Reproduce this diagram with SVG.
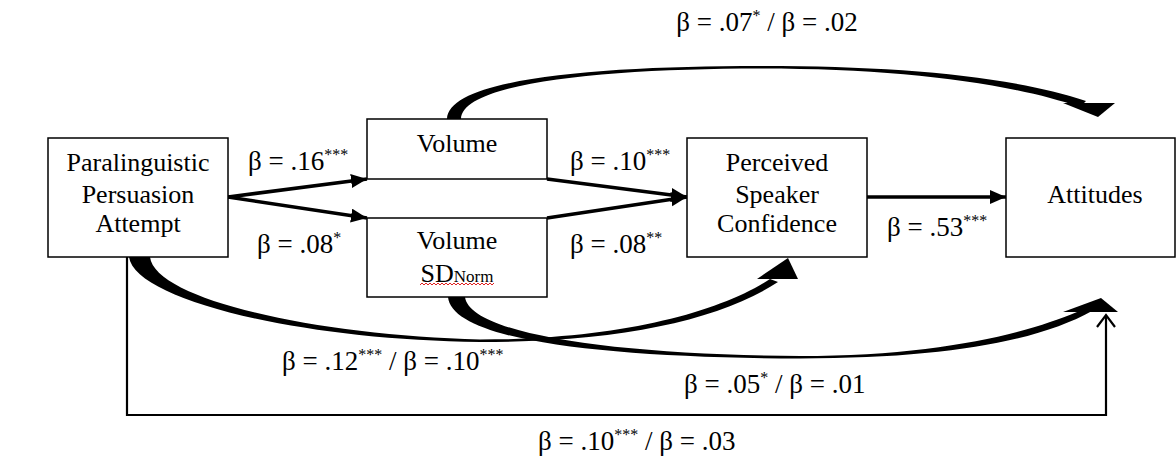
<svg xmlns="http://www.w3.org/2000/svg" width="1176" height="461" viewBox="0 0 1176 461">
<defs>
<style>
.box{fill:#fff;stroke:#000;stroke-width:1.5}
.t{font-family:"Liberation Serif","Times New Roman",serif;font-size:26px;fill:#000}
.lb{font-size:27px}
.c{text-anchor:middle}
.sup{font-size:16px}
.ln{stroke:#000;stroke-width:3.5;fill:none}
.thin{stroke:#000;stroke-width:2.2;fill:none}
.blk{fill:#000;stroke:none}
</style>
<marker id="ah" markerUnits="userSpaceOnUse" markerWidth="18" markerHeight="16" refX="16" refY="7" orient="auto">
<path d="M0,0 L16,7 L0,14 z" fill="#000"/>
</marker>
</defs>
<rect width="1176" height="461" fill="#fff"/>

<g id="connectors">
<line class="ln" x1="228" y1="197" x2="367" y2="179" marker-end="url(#ah)"/>
<line class="ln" x1="228" y1="197" x2="367" y2="218" marker-end="url(#ah)"/>
<line class="ln" x1="547" y1="179" x2="687" y2="197" marker-end="url(#ah)"/>
<line class="ln" x1="547" y1="218" x2="687" y2="197" marker-end="url(#ah)"/>
<line class="ln" x1="867" y1="197" x2="1006" y2="197" marker-end="url(#ah)"/>
<!-- Volume -> Attitudes curve -->
<path class="blk" d="M447 119 C448 78 600 66 760 66 C900 66 1010 76 1086 101 L1080 107 C1010 83 900 68.5 760 68.5 C610 68.5 462 82 461 119 Z"/>
<polygon class="blk" points="1063,103 1115,103 1098,117"/>
<!-- Paralinguistic -> PSC curve -->
<path class="blk" d="M129 257 C135 300 300 340 480 342 C620 342 720 320 778 282 L770 279 C720 312 620 339.5 480 339.5 C320 336 155 300 150 257 Z"/>
<polygon class="blk" points="788,258 798,279 757,279"/>
<!-- Volume SD -> Attitudes curve -->
<path class="blk" d="M448 297 C452 340 600 358 800 358.5 C950 358.5 1040 340 1092 311 L1077 312 C1030 332 940 356 800 356 C620 355 470 335 465 297 Z"/>
<polygon class="blk" points="1101,298 1118,312 1063,312"/>
<!-- direct path -->
<path class="thin" d="M127 257 V415 H1106 V316"/>
<polyline class="thin" points="1097,327 1106,315 1115,327"/>
</g>

<g id="node-paralinguistic">
<rect class="box" x="48" y="138" width="180" height="119"/>
<text class="t c" x="138" y="171">Paralinguistic</text>
<text class="t c" x="138" y="203">Persuasion</text>
<text class="t c" x="138" y="232">Attempt</text>
</g>
<g id="node-volume">
<rect class="box" x="367" y="119" width="180" height="60"/>
<text class="t c" x="457" y="152">Volume</text>
</g>
<g id="node-volume-sd">
<rect class="box" x="367" y="218" width="180" height="79"/>
<text class="t c" x="457" y="249">Volume</text>
<text class="t c" x="457" y="282">SD<tspan font-size="17">Norm</tspan></text>
<path d="M420 285 l2 -2 l2 2 l2 -2 l2 2 l2 -2 l2 2 l2 -2 l2 2 l2 -2 l2 2 l2 -2 l2 2 l2 -2 l2 2 l2 -2 l2 2 l2 -2 l2 2 l2 -2 l2 2 l2 -2 l2 2 l2 -2 l2 2 l2 -2 l2 2 l2 -2 l2 2 l2 -2 l2 2 l2 -2 l2 2 l2 -2 l2 2 l2 -2 l2 2 l2 -2" fill="none" stroke="#e02020" stroke-width="1"/>
</g>
<g id="node-psc">
<rect class="box" x="687" y="138" width="180" height="119"/>
<text class="t c" x="777" y="171">Perceived</text>
<text class="t c" x="777" y="203">Speaker</text>
<text class="t c" x="777" y="232">Confidence</text>
</g>
<g id="node-attitudes">
<rect class="box" x="1006" y="138" width="169" height="119"/>
<text class="t c" x="1095" y="203">Attitudes</text>
</g>

<g id="labels">
<text class="t lb c" x="767" y="31">β = .07<tspan class="sup" dy="-10">*</tspan><tspan dy="10"> / β = .02</tspan></text>
<text class="t lb" x="248" y="170">β = .16<tspan class="sup" dy="-10">***</tspan></text>
<text class="t lb" x="257" y="253">β = .08<tspan class="sup" dy="-10">*</tspan></text>
<text class="t lb" x="570" y="170">β = .10<tspan class="sup" dy="-10">***</tspan></text>
<text class="t lb" x="570" y="253">β = .08<tspan class="sup" dy="-10">**</tspan></text>
<text class="t lb" x="887" y="236">β = .53<tspan class="sup" dy="-10">***</tspan></text>
<text class="t lb" x="282" y="370">β = .12<tspan class="sup" dy="-10">***</tspan><tspan dy="10"> / β = .10</tspan><tspan class="sup" dy="-10">***</tspan></text>
<text class="t lb" x="684" y="393">β = .05<tspan class="sup" dy="-10">*</tspan><tspan dy="10"> / β = .01</tspan></text>
<text class="t lb" x="538" y="450">β = .10<tspan class="sup" dy="-10">***</tspan><tspan dy="10"> / β = .03</tspan></text>
</g>
</svg>
